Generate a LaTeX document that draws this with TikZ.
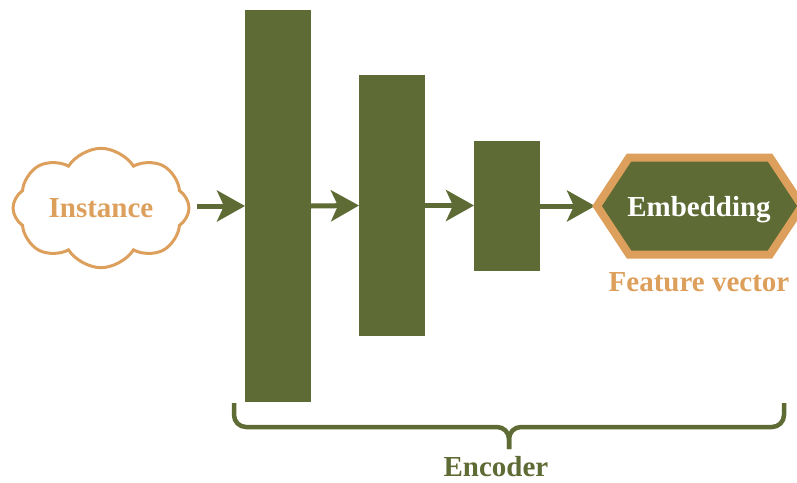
\documentclass[tikz,border=0pt]{standalone}
\usepackage{fontspec}
\setmainfont{Liberation Serif}
\usetikzlibrary{shapes.symbols,arrows.meta}
\definecolor{olive}{HTML}{5E6B35}
\definecolor{sand}{HTML}{DDA05C}
\tikzset{
  bar/.style={fill=olive, draw=none, minimum width=66pt, inner sep=0pt, outer sep=0pt},
  arr/.style={draw=olive, line width=5pt, -{Stealth[length=28pt,width=31pt,inset=7pt]}},
  lbl/.style={font=\fontsize{29}{32}\selectfont\bfseries, inner sep=0pt},
}
\begin{document}
\begin{tikzpicture}[x=1pt,y=-1pt]
\useasboundingbox (0,0) rectangle (797,482);
% cloud
\node[cloud, cloud puffs=8, cloud puff arc=115, aspect=1.55, draw=sand, line width=3pt,
      minimum width=176pt, minimum height=112pt, inner sep=0pt, text=sand, lbl] (cloud) at (101,208) {Instance};
% bars
\node[bar, minimum height=392pt] (bar1) at (278,206) {};
\node[bar, minimum height=261pt] (bar2) at (392,205.5) {};
\node[bar, minimum height=130pt] (bar3) at (507,206) {};
% hexagon
\coordinate (hl) at (597,206);
\coordinate (cs) at (197,206);
\draw[arr] (cs) -- (bar1.west);
\draw[arr] (bar1.east) -- (bar2.west);
\draw[arr] (bar2.east) -- (bar3.west |- bar2.east);
\draw[arr] (bar3.east) -- ([xshift=-2pt]hl);
\draw[draw=sand, fill=olive, line width=8pt, line join=miter]
  (hl) -- (629,157.5) -- (770,157.5) -- (802,206) -- (770,254.5) -- (629,254.5) -- cycle;
\node[lbl, text=white] (emb) at (699,210) {Embedding};
\node[lbl, text=sand] (feat) at (699,282) {Feature vector};
% brace
\coordinate (bl) at (234,403);
\coordinate (br) at (784,403);
\coordinate (bm) at (509,427);
\coordinate (bt) at (509,449);
\draw[olive, line width=4.5pt, rounded corners=12pt] (bl) |- (bm) -- (bt);
\draw[olive, line width=4.5pt, rounded corners=12pt] (br) |- (bm) -- (bt);
\node[lbl, text=olive] (enc) at (496,467) {Encoder};
\end{tikzpicture}
\end{document}
